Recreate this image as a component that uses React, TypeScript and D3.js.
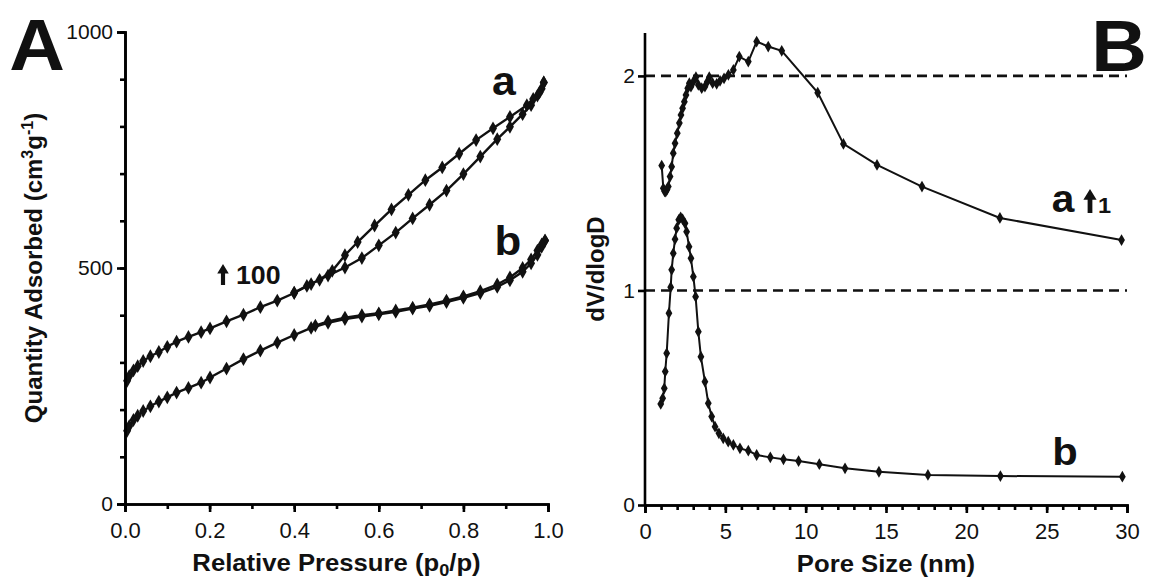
import React, { useEffect, useRef } from "react";
import * as d3 from "d3";

const W = 1149;
const H = 581;
const FONT = "'Liberation Sans', Arial, Helvetica, sans-serif";
const STRETCH = 1.07; // the source figure is slightly stretched horizontally

// ---- panel A : N2 isotherms (p/p0, quantity adsorbed) ----
const offsetA = 100; // curve a is shifted up by 100
const aAdsorption = [
  [0.005, 161], [0.01, 171], [0.02, 183], [0.03, 192], [0.043, 203], [0.06, 213],
  [0.08, 222], [0.1, 233], [0.122, 244], [0.15, 254], [0.18, 264], [0.201, 272],
  [0.24, 287], [0.28, 301], [0.32, 317], [0.36, 331], [0.4, 347], [0.44, 366],
  [0.48, 384], [0.52, 401], [0.56, 421], [0.6, 448], [0.64, 475], [0.68, 505],
  [0.72, 534], [0.76, 564], [0.8, 599], [0.84, 636], [0.88, 673], [0.91, 699],
  [0.94, 726], [0.96, 745], [0.975, 765], [0.985, 780], [0.99, 793]
];
const aDesorption = [
  [0.99, 793], [0.98, 772], [0.965, 758], [0.95, 745], [0.91, 720], [0.87, 696],
  [0.83, 671], [0.79, 642], [0.75, 613], [0.71, 586], [0.67, 555], [0.63, 524],
  [0.59, 490], [0.55, 455], [0.52, 427], [0.49, 394], [0.46, 375], [0.43, 362],
  [0.4, 348]
];
const bAdsorption = [
  [0.005, 155], [0.01, 165], [0.02, 178], [0.03, 187], [0.043, 197], [0.06, 207],
  [0.08, 217], [0.1, 226], [0.122, 236], [0.15, 246], [0.18, 257], [0.201, 268],
  [0.24, 287], [0.28, 307], [0.32, 325], [0.36, 342], [0.4, 358], [0.44, 373],
  [0.48, 384], [0.52, 392], [0.56, 397], [0.6, 402], [0.64, 407], [0.68, 414],
  [0.72, 420], [0.76, 428], [0.8, 437], [0.84, 447], [0.88, 460], [0.91, 474],
  [0.94, 492], [0.96, 510], [0.975, 528], [0.985, 545], [0.993, 558]
];
const bDesorption = [
  [0.993, 558], [0.985, 550], [0.975, 537], [0.96, 518], [0.94, 500], [0.91, 480],
  [0.88, 465], [0.84, 451], [0.8, 440], [0.76, 431], [0.72, 423], [0.68, 416],
  [0.64, 410], [0.6, 404], [0.56, 400], [0.52, 395], [0.48, 387], [0.45, 378]
];

// ---- panel B : pore size distribution (nm, dV/dlogD) ----
const offsetB = 1; // curve a is shifted up by 1
const poreA = [
  [1.04, 0.582], [1.14, 0.476], [1.22, 0.462], [1.29, 0.461], [1.37, 0.47], [1.45, 0.484],
  [1.56, 0.531], [1.66, 0.577], [1.76, 0.64], [1.87, 0.686], [2.01, 0.733], [2.14, 0.78],
  [2.24, 0.818], [2.34, 0.849], [2.45, 0.88], [2.55, 0.911], [2.66, 0.943], [2.76, 0.966],
  [2.86, 0.95], [3.01, 0.973], [3.17, 0.994], [3.32, 0.958], [3.53, 0.943], [3.73, 0.95],
  [3.88, 0.973], [4.0, 0.994], [4.21, 0.966], [4.46, 0.963], [4.67, 0.977], [4.92, 0.989],
  [5.19, 1.005], [5.5, 1.028], [5.87, 1.09], [6.43, 1.067], [6.95, 1.16], [7.67, 1.137],
  [8.51, 1.117], [10.75, 0.922], [12.35, 0.683], [14.44, 0.585], [17.24, 0.484],
  [22.09, 0.338], [29.66, 0.235]
];
const poreB = [
  [0.98, 0.471], [1.1, 0.497], [1.2, 0.544], [1.26, 0.622], [1.35, 0.707], [1.49, 0.894],
  [1.6, 1.015], [1.66, 1.096], [1.76, 1.173], [1.87, 1.239], [1.97, 1.29], [2.1, 1.329],
  [2.22, 1.341], [2.34, 1.332], [2.49, 1.313], [2.59, 1.274], [2.74, 1.204], [2.86, 1.15],
  [3.01, 1.064], [3.15, 0.971], [3.32, 0.808], [3.48, 0.691], [3.73, 0.575], [3.94, 0.474],
  [4.15, 0.412], [4.36, 0.365], [4.6, 0.334], [4.87, 0.311], [5.18, 0.295], [5.5, 0.28],
  [5.91, 0.264], [6.43, 0.253], [6.95, 0.233], [7.8, 0.222], [8.62, 0.213], [9.56, 0.205],
  [10.85, 0.19], [12.45, 0.171], [14.56, 0.155], [17.61, 0.14], [22.12, 0.135], [29.71, 0.132]
];
const dashLevels = [1, 2];
const xTicksA = [0, 0.2, 0.4, 0.6, 0.8, 1];
const yTicksA = [0, 500, 1000];
const xTicksB = [0, 5, 10, 15, 20, 25, 30];
const yTicksB = [0, 1, 2];

const xA = d3.scaleLinear().domain([0, 1]).range([125, 548]);
const yA = d3.scaleLinear().domain([0, 1000]).range([504, 32]);
const xB = d3.scaleLinear().domain([0, 30]).range([645, 1127]);
const yB = d3.scaleLinear().domain([0, 2.2]).range([505, 33]);

function styleAxis(g, size) {
  g.selectAll("path").attr("stroke", "#000").attr("stroke-width", 2.6);
  g.selectAll("line").attr("stroke", "#000").attr("stroke-width", 2.6);
  g.selectAll("text")
    .attr("fill", "#111")
    .style("font-family", FONT)
    .style("font-size", size + "px");
}

function Arrow({ x, y, h }) {
  // filled up-arrow, x = centre, y = bottom
  const w = h * 0.55;
  const d = `M${x},${y - h} L${x + w / 2},${y - h * 0.55} L${x + w * 0.18},${y - h * 0.55} L${x + w * 0.18},${y} L${x - w * 0.18},${y} L${x - w * 0.18},${y - h * 0.55} L${x - w / 2},${y - h * 0.55} Z`;
  return <path d={d} fill="#111" />;
}

// horizontal text, widened a little like the source
function T({ x, y, size, weight = "bold", anchor = "middle", children }) {
  return (
    <g transform={`translate(${x},${y}) scale(${STRETCH},1)`}>
      <text fontFamily={FONT} fontWeight={weight} fontSize={size} textAnchor={anchor} fill="#111">
        {children}
      </text>
    </g>
  );
}

export default function App() {
  const axA = useRef(null);
  const ayA = useRef(null);
  const axB = useRef(null);
  const ayB = useRef(null);

  useEffect(() => {
    // panel A axes
    const gx = d3.select(axA.current);
    gx.selectAll("*").remove();
    gx.append("g").call(d3.axisBottom(xA).tickValues(d3.range(0, 1.01, 0.1)).tickSize(5).tickFormat(() => ""));
    gx.append("g").call(
      d3.axisBottom(xA).tickValues(xTicksA).tickSize(8).tickPadding(10).tickFormat(d3.format(".1f"))
    );
    gx.selectAll("g").each(function () { styleAxis(d3.select(this), 22); });

    const gy = d3.select(ayA.current);
    gy.selectAll("*").remove();
    gy.append("g").call(d3.axisLeft(yA).tickValues(d3.range(0, 1001, 100)).tickSize(5).tickFormat(() => ""));
    gy.append("g").call(d3.axisLeft(yA).tickValues(yTicksA).tickSize(8).tickPadding(4).tickFormat(d3.format("d")));
    gy.selectAll("g").each(function () { styleAxis(d3.select(this), 21); });

    // panel B axes
    const bx = d3.select(axB.current);
    bx.selectAll("*").remove();
    bx.append("g").call(d3.axisBottom(xB).tickValues(d3.range(0, 31, 1)).tickSize(5).tickFormat(() => ""));
    bx.append("g").call(d3.axisBottom(xB).tickValues(xTicksB).tickSize(8).tickPadding(10).tickFormat(d3.format("d")));
    bx.selectAll("g").each(function () { styleAxis(d3.select(this), 22); });

    const by = d3.select(ayB.current);
    by.selectAll("*").remove();
    by.append("g").call(d3.axisLeft(yB).tickValues(yTicksB).tickSize(7).tickPadding(3).tickFormat(d3.format("d")));
    by.selectAll("g").each(function () { styleAxis(d3.select(this), 21); });
    by.select("path").attr("d", `M-0,${yB(2.2)}V${yB(0)}`);
  }, []);

  const lineA = d3.line().x(d => xA(d[0])).y(d => yA(d[1]));
  const lineB = d3.line().x(d => xB(d[0])).y(d => yB(d[1]));
  const diamond = d3.symbol(d3.symbolDiamond, 55)();
  const diamondB = d3.symbol(d3.symbolDiamond, 40)();

  const shift = (arr, o) => arr.map(d => [d[0], d[1] + o]);
  const seriesA = [
    shift(aAdsorption, offsetA),
    shift(aDesorption, offsetA),
    bAdsorption,
    bDesorption
  ];
  const seriesB = [shift(poreA, offsetB), poreB];

  return (
    <svg width={W} height={H} style={{ position: "absolute", left: 0, top: 0, background: "#fff" }}>
      <rect width={W} height={H} fill="#fff" />

      {/* panel A */}
      {seriesA.map((s, i) => (
        <g key={"a" + i}>
          <path d={lineA(s)} fill="none" stroke="#111" strokeWidth={2.4} />
          {s.map((d, j) => (
            <path key={j} d={diamond} transform={`translate(${xA(d[0])},${yA(d[1])})`} fill="#111" />
          ))}
        </g>
      ))}
      <g ref={axA} transform={`translate(0,${yA(0)})`} />
      <g ref={ayA} transform={`translate(${xA(0)},0)`} />

      <T x={37} y={70} size={72}><tspan fontWeight={900}>A</tspan></T>
      <T x={504} y={95} size={40}>a</T>
      <T x={508} y={255} size={41}>b</T>
      <Arrow x={223} y={285} h={21} />
      <T x={236} y={284} size={25} anchor="start">100</T>
      <T x={(xA(0) + xA(1)) / 2} y={571} size={24}>
        Relative Pressure (p<tspan fontSize={17} dy={5}>0</tspan><tspan dy={-5}>/p)</tspan>
      </T>
      <text transform={`translate(42,${(yA(0) + yA(1000)) / 2}) rotate(-90)`} fontFamily={FONT} fontWeight="bold" fontSize={24} textAnchor="middle" fill="#111">
        Quantity Adsorbed (cm<tspan fontSize={16} dy={-9}>3</tspan><tspan dy={9}>g</tspan><tspan fontSize={16} dy={-9}>-1</tspan><tspan dy={9}>)</tspan>
      </text>

      {/* panel B */}
      {dashLevels.map(v => (
        <line key={v} x1={xB(0)} x2={xB(30)} y1={yB(v)} y2={yB(v)} stroke="#111" strokeWidth={2.6} strokeDasharray="10,6" />
      ))}
      {seriesB.map((s, i) => (
        <g key={"b" + i}>
          <path d={lineB(s)} fill="none" stroke="#111" strokeWidth={2} />
          {s.map((d, j) => (
            <path key={j} d={diamondB} transform={`translate(${xB(d[0])},${yB(d[1])})`} fill="#111" />
          ))}
        </g>
      ))}
      <g ref={axB} transform={`translate(0,${yB(0)})`} />
      <g ref={ayB} transform={`translate(${xB(0)},0)`} />

      <T x={1119} y={71} size={72}><tspan fontWeight={900}>B</tspan></T>
      <T x={1063} y={212} size={38}>a</T>
      <Arrow x={1090} y={213} h={24} />
      <T x={1098} y={213} size={22} anchor="start">1</T>
      <T x={1065} y={465} size={39}>b</T>
      <T x={(xB(0) + xB(30)) / 2} y={572} size={24}>Pore Size (nm)</T>
      <text transform={`translate(604,${yB(1.1)}) rotate(-90)`} fontFamily={FONT} fontWeight="bold" fontSize={24} textAnchor="middle" fill="#111">
        dV/dlogD
      </text>
    </svg>
  );
}
